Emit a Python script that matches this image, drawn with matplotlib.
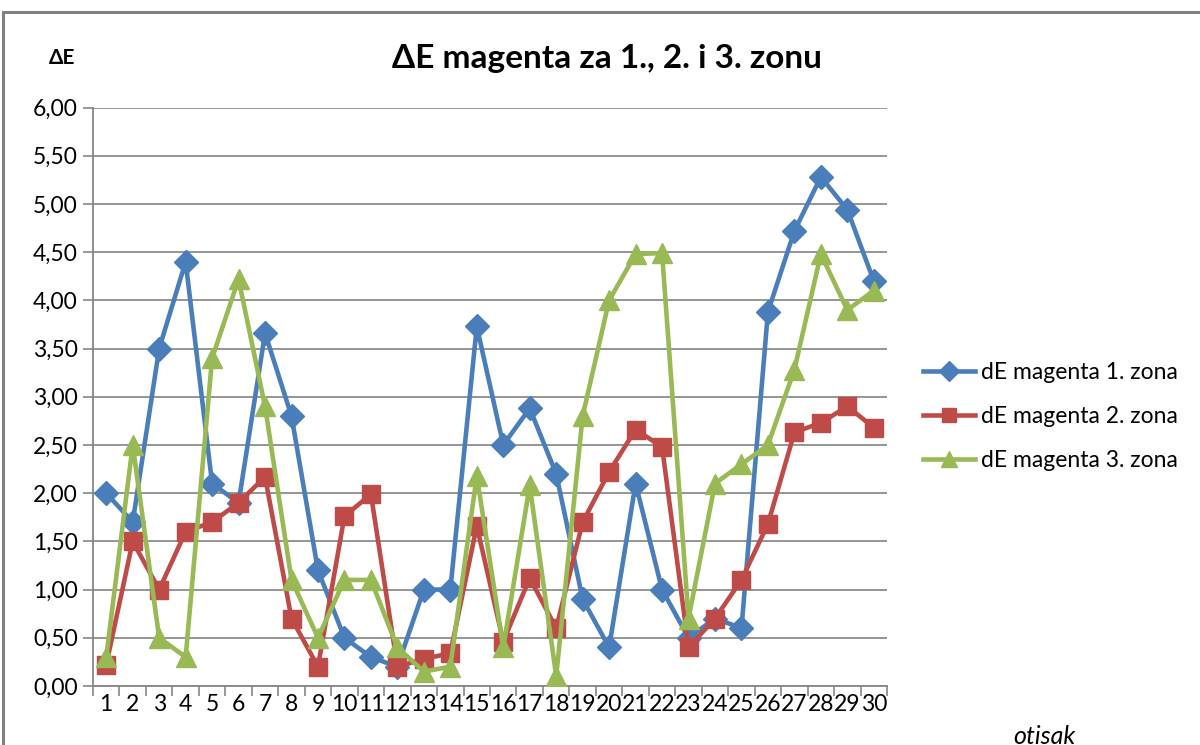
import numpy as np
import matplotlib
matplotlib.use("Agg")
import matplotlib.pyplot as plt
from matplotlib.patches import Rectangle
from matplotlib.ticker import FixedLocator, FuncFormatter

plt.rcParams['font.family'] = ['Lato', 'DejaVu Sans']

# ΔE per print sample (otisak 1..30) for the three zones
otisak = list(range(1, 31))
zona1 = [2.00, 1.70, 3.50, 4.40, 2.10, 1.90, 3.66, 2.80, 1.20, 0.50,
         0.30, 0.20, 1.00, 1.00, 3.73, 2.50, 2.88, 2.20, 0.90, 0.40,
         2.10, 1.00, 0.50, 0.70, 0.60, 3.88, 4.72, 5.28, 4.94, 4.20]
zona2 = [0.22, 1.50, 1.00, 1.60, 1.70, 1.90, 2.17, 0.70, 0.20, 1.76,
         1.99, 0.20, 0.28, 0.34, 1.66, 0.46, 1.12, 0.60, 1.70, 2.22,
         2.66, 2.48, 0.40, 0.70, 1.10, 1.68, 2.63, 2.73, 2.90, 2.68]
zona3 = [0.30, 2.50, 0.50, 0.30, 3.40, 4.22, 2.90, 1.10, 0.50, 1.10,
         1.10, 0.40, 0.15, 0.20, 2.18, 0.40, 2.08, 0.10, 2.80, 4.00,
         4.48, 4.49, 0.70, 2.10, 2.30, 2.50, 3.28, 4.48, 3.90, 4.10]

series_names = ["dE magenta 1. zona", "dE magenta 2. zona", "dE magenta 3. zona"]
colors = ["#4A7EBB", "#BE4B48", "#98B954"]

fig = plt.figure(figsize=(12, 7.45), dpi=100)
ax = fig.add_axes([0.0775, 0.0792, 0.6617, 0.7765])

ax.plot(otisak, zona1, color=colors[0], lw=3.3, marker='D', ms=12.5,
        label=series_names[0], zorder=3)
ax.plot(otisak, zona2, color=colors[1], lw=3.3, marker='s', ms=13,
        label=series_names[1], zorder=4)
ax.plot(otisak, zona3, color=colors[2], lw=3.3, marker='^', ms=14,
        label=series_names[2], zorder=5)

ax.set_xlim(0.5, 30.5)
ax.set_ylim(0, 6)
ax.set_yticks(np.arange(0, 6.01, 0.5))
ax.yaxis.set_major_formatter(FuncFormatter(lambda v, p: ("%.2f" % v).replace(".", ",")))
ax.set_xticks(otisak)
ax.set_xticklabels([str(i) for i in otisak])
ax.xaxis.set_minor_locator(FixedLocator(np.arange(0.5, 30.6, 1)))
ax.tick_params(axis='x', which='major', length=0, labelsize=16.5, pad=6)
ax.tick_params(axis='x', which='minor', length=7, width=1.2, color='#868686', direction='out')
ax.tick_params(axis='y', length=7, width=1.2, color='#868686', labelsize=16.5, pad=4)

ax.grid(axis='y', color='#8c8c8c', lw=1.3)
ax.set_axisbelow(True)
for s in ['top', 'right']:
    ax.spines[s].set_visible(False)
for s in ['left', 'bottom']:
    ax.spines[s].set_color('#868686')
    ax.spines[s].set_linewidth(1.3)

fig.text(0.506, 0.922, "ΔE magenta za 1., 2. i 3. zonu", ha='center', va='center',
         fontsize=24, fontweight='bold')
fig.text(0.052, 0.922, "ΔE", ha='center', va='center', fontsize=15, fontweight='bold')
fig.text(0.870, 0.012, "otisak", ha='center', va='center', fontsize=18, style='italic')

ax.legend(loc='center left', bbox_to_anchor=(1.045, 0.466), frameon=False,
          fontsize=16.5, handlelength=2.3, labelspacing=1.0, handletextpad=0.25,
          borderpad=0, borderaxespad=0, markerscale=0.8)

# outer chart frame
fig.patches.append(Rectangle((0.0025, -0.02), 1.02, 1.004,
                             transform=fig.transFigure, fill=False,
                             edgecolor='#808080', lw=2.2))

fig.savefig("out.png", dpi=100)
